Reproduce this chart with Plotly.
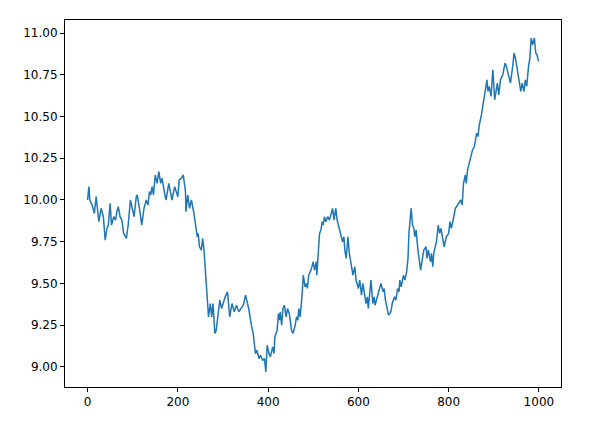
import plotly.graph_objects as go

step_index = [0, 3, 5, 10, 15, 19, 25, 30, 35, 39, 43, 46, 50, 53, 58, 62, 65, 68, 72, 76, 80, 86, 90, 95, 99,
              103, 108, 110, 115, 120, 125, 130, 134, 137, 140, 143, 146, 150, 154, 158, 162, 165, 172, 174, 180,
              184, 187, 193, 200, 203, 208, 212, 217, 218, 222, 226, 230, 235, 240, 243, 245, 248, 252, 255, 258,
              260, 265, 268, 272, 275, 278, 282, 285, 290, 293, 297, 300, 305, 310, 315, 318, 320, 325, 330, 335,
              340, 345, 350, 353, 357, 363, 367, 372, 375, 380, 383, 388, 392, 395, 398, 402, 405, 410, 413, 415,
              420, 423, 425, 427, 430, 433, 436, 440, 443, 447, 450, 452, 455, 460, 463, 466, 468, 471, 475, 478,
              482, 485, 487, 490, 495, 500, 503, 507, 508, 512, 514, 517, 520, 522, 525, 528, 532, 536, 540, 543,
              546, 550, 553, 556, 560, 565, 568, 570, 573, 577, 580, 585, 588, 592, 595, 600, 603, 607, 610, 617,
              620, 622, 625, 628, 632, 635, 637, 640, 645, 650, 655, 657, 660, 663, 667, 672, 675, 680, 683, 687,
              690, 692, 695, 700, 703, 707, 710, 712, 715, 717, 720, 723, 725, 728, 732, 735, 738, 742, 745, 750,
              752, 755, 760, 762, 765, 767, 770, 773, 777, 780, 783, 787, 790, 795, 800, 803, 806, 810, 815, 820,
              827, 830, 833, 837, 839, 842, 848, 853, 857, 862, 865, 868, 872, 877, 880, 885, 887, 890, 894, 898,
              902, 905, 908, 911, 915, 920, 925, 928, 932, 937, 942, 945, 948, 951, 955, 960, 963, 967, 970, 973,
              977, 980, 983, 986, 990, 993, 996, 999]

price = [10.00, 10.08, 10.00, 9.97, 9.92, 10.02, 9.87, 9.95, 9.90, 9.76, 9.83, 9.85, 9.98, 9.85, 9.90, 9.88,
         9.93, 9.96, 9.90, 9.88, 9.80, 9.77, 9.85, 10.00, 9.95,
         9.90, 10.02, 10.03, 9.95, 9.85, 9.95, 10.00, 9.97, 10.05, 10.03, 10.08, 10.03, 10.15, 10.10, 10.17,
         10.10, 10.13, 10.02, 10.00, 10.10,
         10.05, 10.00, 10.08, 10.02, 10.12, 10.13, 10.15, 10.05, 9.93, 10.03, 9.95, 10.00, 9.93, 9.85, 9.78,
         9.80, 9.72, 9.70, 9.77, 9.70,
         9.63, 9.45, 9.30, 9.38, 9.30, 9.38, 9.20, 9.22, 9.35, 9.40, 9.35, 9.38, 9.42, 9.45, 9.30, 9.35, 9.38,
         9.33, 9.37, 9.33,
         9.35, 9.37, 9.43, 9.40, 9.35, 9.25, 9.20, 9.08, 9.10, 9.05, 9.07, 9.04, 9.05, 8.97, 9.13, 9.08, 9.06,
         9.12, 9.08, 9.18,
         9.22, 9.32, 9.28, 9.33, 9.25, 9.35, 9.37, 9.30, 9.35, 9.32, 9.25, 9.22, 9.20, 9.25, 9.30, 9.28, 9.35,
         9.30, 9.42, 9.55,
         9.48, 9.50, 9.47, 9.55, 9.58, 9.63, 9.58, 9.63, 9.55, 9.70, 9.80, 9.82, 9.87, 9.85, 9.90, 9.87, 9.90,
         9.88, 9.92, 9.95,
         9.88, 9.95, 9.88, 9.85, 9.80, 9.75, 9.78, 9.70, 9.65, 9.78, 9.68, 9.60, 9.55, 9.60, 9.52, 9.47, 9.52,
         9.43, 9.50, 9.38,
         9.42, 9.35, 9.45, 9.52, 9.38, 9.42, 9.37, 9.40, 9.45, 9.50, 9.45, 9.47, 9.40, 9.35, 9.31, 9.33, 9.38,
         9.42, 9.40, 9.47,
         9.45, 9.52, 9.48, 9.55, 9.52, 9.57, 9.65, 9.80, 9.92, 9.95, 9.85, 9.83, 9.78, 9.82, 9.70, 9.62, 9.58,
         9.65, 9.70, 9.72,
         9.65, 9.70, 9.63, 9.68, 9.60, 9.68, 9.72, 9.75, 9.85, 9.80, 9.83, 9.75, 9.72, 9.78, 9.80, 9.87, 9.83,
         9.88, 9.95, 9.97,
         10.00, 9.97, 10.10, 10.15, 10.10, 10.18, 10.25, 10.30, 10.32, 10.40, 10.38, 10.45, 10.50, 10.58, 10.65,
         10.72, 10.65, 10.68, 10.62, 10.78,
         10.60, 10.65, 10.70, 10.63, 10.72, 10.75, 10.82, 10.80, 10.75, 10.70, 10.80, 10.88, 10.85, 10.80, 10.72,
         10.65, 10.70, 10.65, 10.72, 10.68,
         10.80, 10.85, 10.97, 10.93, 10.97, 10.88, 10.87, 10.83]

x_ticks = [0, 200, 400, 600, 800, 1000]
y_ticks = [9.00, 9.25, 9.50, 9.75, 10.00, 10.25, 10.50, 10.75, 11.00]

fig = go.Figure()
fig.add_trace(go.Scatter(x=step_index, y=price, mode="lines",
                         line=dict(color="#1f77b4", width=1.5), showlegend=False))

axis_common = dict(showgrid=False, zeroline=False, showline=True, linecolor="black", linewidth=1,
                   mirror=True, ticks="outside", ticklen=4, tickwidth=1, tickcolor="black",
                   tickfont=dict(family="DejaVu Sans", size=12, color="black"))

fig.update_layout(
    width=595, height=423,
    margin=dict(l=57, r=42, t=12, b=44),
    plot_bgcolor="white", paper_bgcolor="white",
    xaxis=dict(range=[-50, 1049], tickvals=x_ticks, ticktext=[str(t) for t in x_ticks], **axis_common),
    yaxis=dict(range=[8.88, 11.078], tickvals=y_ticks, ticktext=[f"{t:.2f}" for t in y_ticks], **axis_common),
)

fig.write_html("out.html")
